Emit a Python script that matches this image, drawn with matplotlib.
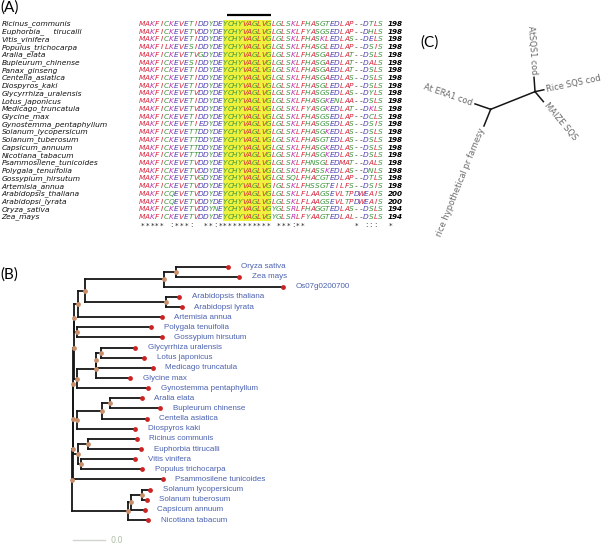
import matplotlib
matplotlib.use("Agg")

import matplotlib.pyplot as plt
from matplotlib.patches import Rectangle
import numpy as np

W, H = 609, 544

# ── Panel A: alignment data ───────────────────────────────────────────────────
SPECIES_A = [
    "Ricinus_communis", "Euphorbia_    tirucalli", "Vitis_vinifera",
    "Populus_trichocarpa", "Aralia_elata", "Bupleurum_chinense",
    "Panax_ginseng", "Centella_asiatica", "Diospyros_kaki",
    "Glycyrrhiza_uralensis", "Lotus_japonicus", "Medicago_truncatula",
    "Glycine_max", "Gynostemma_pentaphyllum", "Solanum_lycopersicum",
    "Solanum_tuberosum", "Capsicum_annuum", "Nicotiana_tabacum",
    "Psammosilene_tunicoides", "Polygala_tenuifolia", "Gossypium_hirsutum",
    "Artemisia_annua", "Arabidopsis_thaliana", "Arabidopsi_lyrata",
    "Oryza_sativa", "Zea_mays",
]
SEQUENCES_A = [
    "MAKFICKEVETIDDYDEYCHYVAGLVGLGLSKLFHASGTEDLAP--DTLS",
    "MAKFICKEVETVDDYDEYCHYVAGLVGLGLSKLFYASGSEDLAP--DHLS",
    "MAKFICKEVETIDDYDEYCHYVAGLVGLGLSKLFHASKLEDLAS--DELS",
    "MAKFILKEVESIDDYDEYCHYVAGLVGLGLSKLFHASGLEDLAP--DSIS",
    "MAKFICKEVETVGDYDEYCHYVAGLVGLGLSKLFHASGAEDLAT--DSLS",
    "MAKFICKEVESIDDYDEYCHYVAGLVGLGLSKLFHASGAEDLAT--DALS",
    "MAKFICKEVETIDDYDEYCHYVAGLVGLGLSKLFHASGAEDLAT--DSLS",
    "MAKFICKEVETIDDYDEYCHYVAGLVGLGLSKLFHASGAEDLAS--DSLS",
    "MAKFICKEVETIDDYDEYCHYVAGLVGLGLSKLFHASGLEDLAP--DSLS",
    "MAKFICKEVETVDDYDEYCHYVAGLVGLGLSKLFHASGSEDLAS--DYLS",
    "MAKFICKEVETIDDYDEYCHYVAGLVGLGLSKLFHASGKENLAA--DSLS",
    "MAKFICKEVETVDDYDEYCHYVAGLVGLGLSKLFYASGKEDLAT--DKLS",
    "MAKFICKEVETIDDYDEYCHYVAGLVGLGLSKLFHASGSEDLAP--DCLS",
    "MAKFICKEVETIEDYDEYCHYVAGLVGLGLSKLFHASGSEDLAS--DSIS",
    "MAKFICKEVETTDDYDEYCHYVAGLVGLGLSKLFHASGKEDLAS--DSLS",
    "MAKFICKEVETTDDYDEYCHYVAGLVGLGLSKLFHASGTEDLAS--DSLS",
    "MAKFICKEVETTDDYDEYCHYVAGLVGLGLSKLFHASGKEDLAS--DSLS",
    "MAKFICKEVETTDDYDEYCHYVAGLVGLGLSKLFHASGKEDLAS--DSLS",
    "MAKFICKEVETVDDYDEYCHYVAGLVGLGLSKLFHNSGLEDMAT--DALS",
    "MAKFICKEVETVDDYDEYCHYVAGLVGLGLSKLFHASSKEDLAS--DNLS",
    "MAKFICKEVETVGDYDEYCHYVAGLVGLGLSQLFHACGTEDLAP--DTLS",
    "MAKFICKEVETVDDYDEYCHYVAGLVGIGLSKLFHSSGTEILFS--DSIS",
    "MAKFICQEVETVDDYDEYCHYVAGLVGLGLSKLFLAAGSEVLTPDWEAIS",
    "MAKFICQEVETVDDYDEYCHYVAGLVGLGLSKLFLAAGSEVLTPDWEAIS",
    "MAKFICKEVETVDDYNEYCHYVAGLVGYGLSRLFHAGGTEDLAS--DSLS",
    "MAKFICKEVETVDDYDEYCHYVAGLVGYGLSRLFYAAGTEDLAL--DSLS",
]
SEQ_END = ["198"] * 22 + ["200", "200", "194", "194"]
CONSERVATION = "***** :***:  **:*********** ***:**          * :::  *"
MOTIF_COLS = (17, 26)     # yellow box, inclusive columns
MOTIF_BAR = (18, 26)      # black bar above the alignment

CLUSTAL_GROUPS = {
    "AVFPMILW": "#d4263c",
    "DE": "#4f3fb0",
    "RK": "#bb36b0",
    "STYHCNGQ": "#3c963c",
    "-": "#333333",
}
RES_COLOR = {aa: col for grp, col in CLUSTAL_GROUPS.items() for aa in grp}

# ── Panel B: tree (Newick, branch lengths in substitutions/site) ─────────────
CLADE_MONO_ARAB = ("((((Oryza sativa:0.0805,Zea mays:0.0975):0.0181,"
                   "Os07g0200700:0.1837):0.1228,(Arabidopsis thaliana:0.0201,"
                   "Arabidopsi lyrata:0.0243):0.1254):0.0104,Artemisia annua:0.1291)")
CLADE_POLY = "(Polygala tenuifolia:0.1141,Gossypium hirsutum:0.1307)"
CLADE_LEGUME = ("((((Glycyrrhiza uralensis:0.0534,Lotus japonicus:0.0678):0.0065,"
                "Medicago truncatula:0.0873):0.0009,Glycine max:0.0531):0.0294,"
                "Gynostemma pentaphyllum:0.1108)")
CLADE_APIALES = ("(((Aralia elata:0.0491,Bupleurum chinense:0.0774):0.0119,"
                 "Centella asiatica:0.0687):0.0387,Diospyros kaki:0.0893)")
CLADE_ROSID = ("((Ricinus communis:0.0762,Euphorbia ttirucalli:0.0828):0.0142,"
               "(Vitis vinifera:0.0841,Populus trichocarpa:0.0954):0.0037)")
CLADE_SOLAN = ("(((Solanum lycopersicum:0.0119,Solanum tuberosum:0.0068):0.0180,"
               "Capsicum annuum:0.0221):0.0037,Nicotiana tabacum:0.0310)")
TREE_B = ("((((((" + CLADE_MONO_ARAB + ":0.0070," + CLADE_POLY + ":0.0054):0.0005,"
          + CLADE_LEGUME + ":0.0050):0.0005," + CLADE_APIALES + ":0.0063):0.0005,"
          + CLADE_ROSID + ":0.0084):0.0005,Psammosilene tunicoides:0.1395):0.0005,"
          + CLADE_SOLAN + ":0.0867);")
SCALE_LEN = 0.05
SCALE_TEXT = "0.0"

# ── Panel C: unrooted tree (lengths in px-like units, angles in degrees) ─────
C_INTERNAL = (47.7, 21.7)
C_LEAVES = [
    ("At ERA1 cod", 1, 16.6, 161),
    ("rice hypothetical pr farnesy", 1, 18.0, 248),
    ("AtSQS1 cod", 2, 14.4, 94),
    ("Rice SQS cod", 2, 9.0, 12),
    ("MAIZE SQS", 2, 13.0, -50),
]

fig = plt.figure(figsize=(W / 100, H / 100), dpi=100)


def px_axes(x0, y0, x1, y1):
    ax = fig.add_axes([x0 / W, 1 - y1 / H, (x1 - x0) / W, (y1 - y0) / H])
    ax.axis("off")
    return ax


def panel_label(x, y, s):
    fig.text(x / W, 1 - y / H, s, fontsize=11, family="Lato", va="top", ha="left")


# ──────────────────────────────────────────────────────────────────────────────
# (A) alignment
# ──────────────────────────────────────────────────────────────────────────────
SEQ_X0, CELL, ROW_Y0, ROW_H = 142.4, 4.86, 24.0, 7.72
ax_a = px_axes(0, 0, 400, 240)
ax_a.set_xlim((0 - SEQ_X0) / CELL, (400 - SEQ_X0) / CELL)
ax_a.set_ylim((240 - ROW_Y0) / ROW_H, (0 - ROW_Y0) / ROW_H)

n_rows = len(SEQUENCES_A)
ax_a.add_patch(Rectangle((MOTIF_COLS[0] - 0.5, -0.5), MOTIF_COLS[1] - MOTIF_COLS[0] + 1,
                         n_rows, facecolor="#eef23c", edgecolor="none", zorder=0))
ax_a.plot([MOTIF_BAR[0] - 0.5, MOTIF_BAR[1] + 0.5], [-1.15, -1.15], color="black",
          lw=1.6, solid_capstyle="butt")

name_tr = ax_a.get_yaxis_transform()
for r, (name, seq, end) in enumerate(zip(SPECIES_A, SEQUENCES_A, SEQ_END)):
    ax_a.text(0.004, r, name, transform=name_tr, fontsize=5.4, style="italic",
              color="#111111", ha="left", va="center")
    for c, aa in enumerate(seq):
        ax_a.text(c, r, aa, fontsize=5.3, style="italic", color=RES_COLOR.get(aa, "#333"),
                  ha="center", va="center")
    ax_a.text(len(seq) + 0.5, r, end, fontsize=5.2, style="italic", fontweight="bold",
              ha="left", va="center")

for c, ch in enumerate(CONSERVATION):
    if ch != " ":
        ax_a.text(c, n_rows + 0.1, ch, fontsize=5.2, color="#222222",
                  ha="center", va="center")

panel_label(0, 0, "(A)")

# ──────────────────────────────────────────────────────────────────────────────
# (B) rooted tree
# ──────────────────────────────────────────────────────────────────────────────


def parse_newick(s):
    pos = 0

    def node():
        nonlocal pos
        kids = []
        if s[pos] == "(":
            pos += 1
            kids.append(node())
            while s[pos] == ",":
                pos += 1
                kids.append(node())
            pos += 1
        start = pos
        while s[pos] not in ":,);":
            pos += 1
        name = s[start:pos].strip()
        length = 0.0
        if s[pos] == ":":
            pos += 1
            start = pos
            while s[pos] not in ",);":
                pos += 1
            length = float(s[start:pos])
        return {"name": name, "len": length, "kids": kids}

    return node()


tree = parse_newick(TREE_B)
tips, internals = [], []


def layout(nd, x0):
    nd["x"] = x0 + nd["len"]
    if not nd["kids"]:
        nd["y"] = len(tips)
        tips.append(nd)
    else:
        for k in nd["kids"]:
            layout(k, nd["x"])
        nd["y"] = (nd["kids"][0]["y"] + nd["kids"][-1]["y"]) / 2
        internals.append(nd)


layout(tree, 0.0)

ROOT_PX, UNIT_PX, TIP0_PX, TIP_PX = 72.3, 646.0, 266.5, 10.14
ax_b = px_axes(60, 250, 420, 544)
ax_b.set_xlim((60 - ROOT_PX) / UNIT_PX, (420 - ROOT_PX) / UNIT_PX)
ax_b.set_ylim((544 - TIP0_PX) / TIP_PX, (250 - TIP0_PX) / TIP_PX)

for nd in internals:
    ax_b.plot([nd["x"], nd["x"]], [nd["kids"][0]["y"], nd["kids"][-1]["y"]],
              color="#151515", lw=1.3, solid_capstyle="projecting", zorder=2)
    for k in nd["kids"]:
        ax_b.plot([nd["x"], k["x"]], [k["y"], k["y"]], color="#151515", lw=1.3,
                  solid_capstyle="projecting", zorder=2)

ax_b.scatter([nd["x"] for nd in internals], [nd["y"] for nd in internals],
             s=12, color="#c98f6c", zorder=3, linewidths=0)
ax_b.scatter([t["x"] for t in tips], [t["y"] for t in tips],
             s=12, color="#cc2222", zorder=3, linewidths=0)
for t in tips:
    ax_b.annotate(t["name"], (t["x"], t["y"]), xytext=(9, 0), textcoords="offset points",
                  fontsize=5.8, family="Liberation Sans", color="#4b62b0",
                  ha="left", va="center")

sb_y = len(tips) + 1
ax_b.plot([0.0005, 0.0005 + SCALE_LEN], [sb_y, sb_y], color="#cfd6cc", lw=1.0)
ax_b.annotate(SCALE_TEXT, (0.0005 + SCALE_LEN, sb_y), xytext=(4, 0),
              textcoords="offset points", fontsize=5.8, color="#aebfa5",
              ha="left", va="center")

panel_label(0, 267, "(B)")

# ──────────────────────────────────────────────────────────────────────────────
# (C) unrooted tree
# ──────────────────────────────────────────────────────────────────────────────
N1_PX = (490.7, 109.3)
ax_c = px_axes(400, 0, 609, 260)
ax_c.set_xlim(400 - N1_PX[0], 609 - N1_PX[0])
ax_c.set_ylim(-(260 - N1_PX[1]), N1_PX[1])

nodes_c = {1: np.array([0.0, 0.0])}
ang = np.deg2rad(C_INTERNAL[1])
nodes_c[2] = nodes_c[1] + C_INTERNAL[0] * np.array([np.cos(ang), np.sin(ang)])
ax_c.plot([nodes_c[1][0], nodes_c[2][0]], [nodes_c[1][1], nodes_c[2][1]],
          color="#151515", lw=1.1)

for label, which, length, deg in C_LEAVES:
    a = np.deg2rad(deg)
    d = np.array([np.cos(a), np.sin(a)])
    start = nodes_c[which]
    end = start + length * d
    ax_c.plot([start[0], end[0]], [start[1], end[1]], color="#151515", lw=1.1)
    pos = end + 3.0 * d
    if 90 < deg % 360 < 270:
        rot, ha = deg - 180, "right"
    else:
        rot, ha = deg, "left"
    ax_c.text(pos[0], pos[1], label, rotation=rot, rotation_mode="anchor", ha=ha,
              va="center", fontsize=6.0, color="#6a6a6a")

panel_label(420, 35, "(C)")

fig.savefig("out.png", dpi=100)
